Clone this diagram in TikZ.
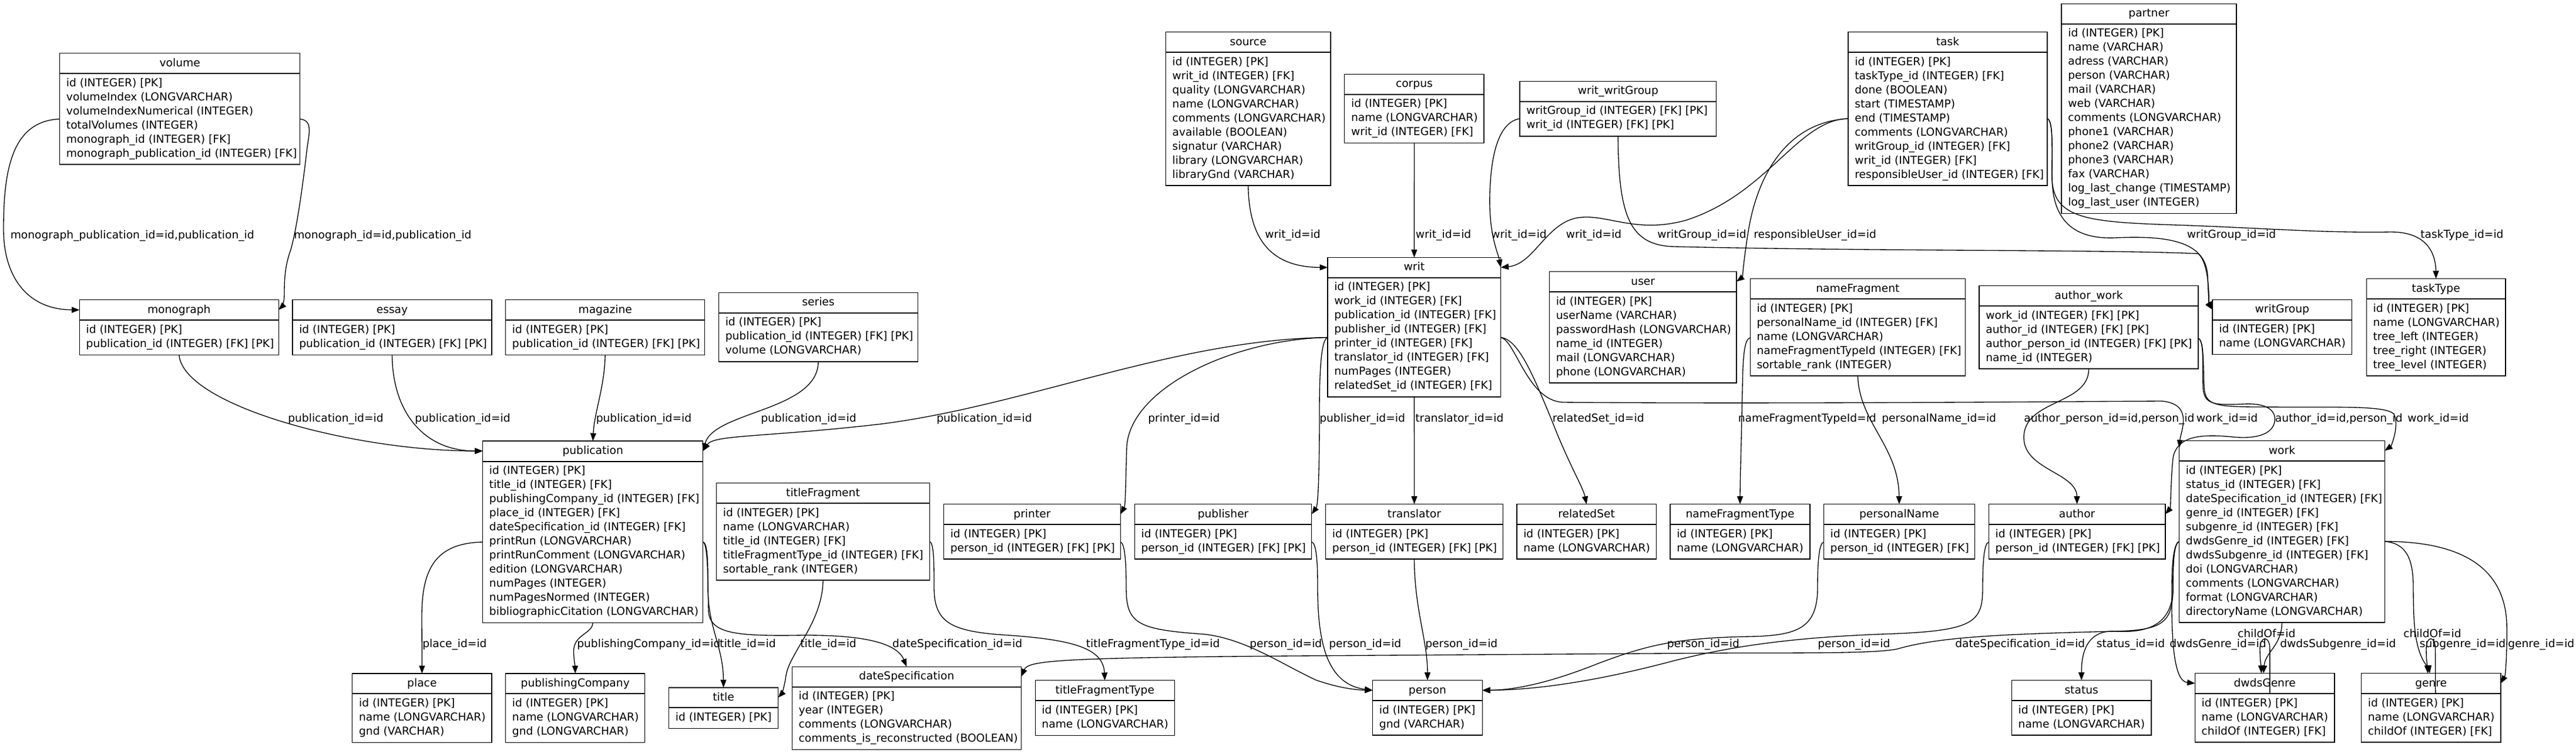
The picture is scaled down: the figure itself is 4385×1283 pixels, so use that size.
\documentclass[tikz,border=0pt]{standalone}
\usepackage{fontspec}
\setmainfont{DejaVu Sans}
\usetikzlibrary{arrows.meta,calc}
\newcommand\fsz{\fontsize{14pt}{18pt}\selectfont}
\tikzset{
  tablebox/.style={draw, line width=1pt, rectangle, inner sep=0pt, outer sep=0pt},
  headline/.style={line width=1.5pt},
  titletext/.style={anchor=base, inner sep=0pt, font=\fsz},
  rowtext/.style={anchor=base west, inner sep=0pt, font=\fsz},
  elabel/.style={anchor=base west, inner sep=0pt, font=\fsz},
  fk/.style={line width=1pt, -{Triangle[length=10pt,width=7.5pt]}}
}
% #1 name, #2 x1, #3 y1, #4 x2, #5 title, #6 number of rows, #7 rows
\newcommand\ertable[7]{%
  \pgfmathsetmacro\erybot{#3+45.5+24*#6}%
  \node[tablebox, minimum width={(#4-#2)*0.75pt}, minimum height={(\erybot-#3)*0.75pt}] (#1) at ({(#2+#4)/2},{(#3+\erybot)/2}) {};
  \draw[headline] ($(#1.north west)+(0,34.5)$) -- ($(#1.north east)+(0,34.5)$);
  \node[titletext] (#1-title) at ($(#1.north)+(0,22.5)$) {#5};
  \foreach \errow [count=\eri] in {#7} {%
    \node[rowtext] (#1-row\eri) at ($(#1.north west)+(11,{56.5+24*(\eri-1)})$) {\errow};
  }%
}
\begin{document}
\begin{tikzpicture}[x=0.75pt,y=-0.75pt]
\useasboundingbox (0,0) rectangle (4385,1283);

% ---------------- tables ----------------
\ertable{volume}{101.7}{90.6}{510.7}{volume}{6}{id (INTEGER) [PK],volumeIndex (LONGVARCHAR),volumeIndexNumerical (INTEGER),totalVolumes (INTEGER),monograph\_id (INTEGER) [FK],monograph\_publication\_id (INTEGER) [FK]}
\ertable{monograph}{135.4}{510.8}{474.2}{monograph}{2}{id (INTEGER) [PK],publication\_id (INTEGER) [FK] [PK]}
\ertable{essay}{498}{510.8}{837}{essay}{2}{id (INTEGER) [PK],publication\_id (INTEGER) [FK] [PK]}
\ertable{magazine}{860.7}{510.8}{1199.7}{magazine}{2}{id (INTEGER) [PK],publication\_id (INTEGER) [FK] [PK]}
\ertable{series}{1223.5}{498.4}{1562.5}{series}{3}{id (INTEGER) [PK],publication\_id (INTEGER) [FK] [PK],volume (LONGVARCHAR)}
\ertable{publication}{821.7}{751}{1196.7}{publication}{11}{id (INTEGER) [PK],title\_id (INTEGER) [FK],publishingCompany\_id (INTEGER) [FK],place\_id (INTEGER) [FK],dateSpecification\_id (INTEGER) [FK],printRun (LONGVARCHAR),printRunComment (LONGVARCHAR),edition (LONGVARCHAR),numPages (INTEGER),numPagesNormed (INTEGER),bibliographicCitation (LONGVARCHAR)}
\ertable{titleFragment}{1219.6}{822.5}{1582.4}{titleFragment}{5}{id (INTEGER) [PK],name (LONGVARCHAR),title\_id (INTEGER) [FK],titleFragmentType\_id (INTEGER) [FK],sortable\_rank (INTEGER)}
\ertable{place}{599.8}{1146.9}{836.9}{place}{3}{id (INTEGER) [PK],name (LONGVARCHAR),gnd (VARCHAR)}
\ertable{publishingCompany}{860.7}{1146.9}{1097.7}{publishingCompany}{3}{id (INTEGER) [PK],name (LONGVARCHAR),gnd (LONGVARCHAR)}
\ertable{title}{1138.6}{1170.9}{1324.5}{title}{1}{id (INTEGER) [PK]}
\ertable{dateSpecification}{1348.3}{1135.3}{1738.4}{dateSpecification}{4}{id (INTEGER) [PK],year (INTEGER),comments (LONGVARCHAR),comments\_is\_reconstructed (BOOLEAN)}
\ertable{titleFragmentType}{1762.2}{1158.7}{1999.3}{titleFragmentType}{2}{id (INTEGER) [PK],name (LONGVARCHAR)}
\ertable{printer}{1606.5}{858.5}{1907.4}{printer}{2}{id (INTEGER) [PK],person\_id (INTEGER) [FK] [PK]}
\ertable{publisher}{1931.3}{858.5}{2232.8}{publisher}{2}{id (INTEGER) [PK],person\_id (INTEGER) [FK] [PK]}
\ertable{translator}{2256.6}{858.5}{2558.3}{translator}{2}{id (INTEGER) [PK],person\_id (INTEGER) [FK] [PK]}
\ertable{relatedSet}{2582}{858.5}{2819.2}{relatedSet}{2}{id (INTEGER) [PK],name (LONGVARCHAR)}
\ertable{nameFragmentType}{2843}{858.5}{3081}{nameFragmentType}{2}{id (INTEGER) [PK],name (LONGVARCHAR)}
\ertable{personalName}{3104.4}{858.5}{3361.4}{personalName}{2}{id (INTEGER) [PK],person\_id (INTEGER) [FK]}
\ertable{author}{3385.4}{858.5}{3685.8}{author}{2}{id (INTEGER) [PK],person\_id (INTEGER) [FK] [PK]}
\ertable{work}{3709.6}{750.5}{4059.3}{work}{11}{id (INTEGER) [PK],status\_id (INTEGER) [FK],dateSpecification\_id (INTEGER) [FK],genre\_id (INTEGER) [FK],subgenre\_id (INTEGER) [FK],dwdsGenre\_id (INTEGER) [FK],dwdsSubgenre\_id (INTEGER) [FK],doi (LONGVARCHAR),comments (LONGVARCHAR),format (LONGVARCHAR),directoryName (LONGVARCHAR)}
\ertable{person}{2336.6}{1158.5}{2523.2}{person}{2}{id (INTEGER) [PK],gnd (VARCHAR)}
\ertable{status}{3424.4}{1158.5}{3661.9}{status}{2}{id (INTEGER) [PK],name (LONGVARCHAR)}
\ertable{dwdsGenre}{3736.4}{1146.6}{3973.9}{dwdsGenre}{3}{id (INTEGER) [PK],name (LONGVARCHAR),childOf (INTEGER) [FK]}
\ertable{genre}{4019.5}{1146.6}{4256.9}{genre}{3}{id (INTEGER) [PK],name (LONGVARCHAR),childOf (INTEGER) [FK]}
\ertable{source}{1984.4}{54.5}{2265}{source}{9}{id (INTEGER) [PK],writ\_id (INTEGER) [FK],quality (LONGVARCHAR),name (LONGVARCHAR),comments (LONGVARCHAR),available (BOOLEAN),signatur (VARCHAR),library (LONGVARCHAR),libraryGnd (VARCHAR)}
\ertable{corpus}{2288.8}{126.3}{2526}{corpus}{3}{id (INTEGER) [PK],name (LONGVARCHAR),writ\_id (INTEGER) [FK]}
\ertable{wwg}{2587}{138.4}{2921.6}{writ\_writGroup}{2}{writGroup\_id (INTEGER) [FK] [PK],writ\_id (INTEGER) [FK] [PK]}
\ertable{writ}{2260}{438.4}{2554.7}{writ}{8}{id (INTEGER) [PK],work\_id (INTEGER) [FK],publication\_id (INTEGER) [FK],publisher\_id (INTEGER) [FK],printer\_id (INTEGER) [FK],translator\_id (INTEGER) [FK],numPages (INTEGER),relatedSet\_id (INTEGER) [FK]}
\ertable{user}{2637.5}{462.5}{2956}{user}{6}{id (INTEGER) [PK],userName (VARCHAR),passwordHash (LONGVARCHAR),name\_id (INTEGER),mail (LONGVARCHAR),phone (LONGVARCHAR)}
\ertable{nameFragment}{2979.2}{474.6}{3345.6}{nameFragment}{5}{id (INTEGER) [PK],personalName\_id (INTEGER) [FK],name (LONGVARCHAR),nameFragmentTypeId (INTEGER) [FK],sortable\_rank (INTEGER)}
\ertable{aw}{3369}{486.5}{3742}{author\_work}{4}{work\_id (INTEGER) [FK] [PK],author\_id (INTEGER) [FK] [PK],author\_person\_id (INTEGER) [FK] [PK],name\_id (INTEGER)}
\ertable{writGroup}{3766}{510.3}{4003.6}{writGroup}{2}{id (INTEGER) [PK],name (LONGVARCHAR)}
\ertable{taskType}{4028.3}{474.6}{4265}{taskType}{5}{id (INTEGER) [PK],name (LONGVARCHAR),tree\_left (INTEGER),tree\_right (INTEGER),tree\_level (INTEGER)}
\ertable{task}{3146}{54.5}{3485}{task}{9}{id (INTEGER) [PK],taskType\_id (INTEGER) [FK],done (BOOLEAN),start (TIMESTAMP),end (TIMESTAMP),comments (LONGVARCHAR),writGroup\_id (INTEGER) [FK],writ\_id (INTEGER) [FK],responsibleUser\_id (INTEGER) [FK]}
\ertable{partner}{3509}{6.25}{3807}{partner}{13}{id (INTEGER) [PK],name (VARCHAR),adress (VARCHAR),person (VARCHAR),mail (VARCHAR),web (VARCHAR),comments (LONGVARCHAR),phone1 (VARCHAR),phone2 (VARCHAR),phone3 (VARCHAR),fax (VARCHAR),log\_last\_change (TIMESTAMP),log\_last\_user (INTEGER)}

% ---------------- connectors ----------------
\draw[fk] ($(volume.north west)+(0,112.1)$) .. controls (20,206) and (6,290) .. (6,390) .. controls (6,470) and (45,527) .. ($(monograph.north west)+(0,17)$);
\draw[fk] ($(volume.north east)+(0,112.1)$) .. controls (530,205) and (528,220) .. (523,250) .. controls (515,320) and (505,390) .. (495,425) .. controls (486,450) and (484,470) .. (484,500) .. controls (484,515) and (480,522) .. ($(monograph.north east)+(0,17)$);
\draw[fk] (monograph.south) .. controls (312,690) and (600,768) .. ($(publication.north west)+(0,17)$);
\draw[fk] (essay.south) .. controls (668,700) and (720,768) .. ($(publication.north west)+(0,17)$);
\draw[fk] (magazine.south) .. controls (1029,660) and (1012,700) .. (publication.north);
\draw[fk] (series.south) .. controls (1392,700) and (1215,700) .. ($(publication.north east)+(0,17)$);
\draw[fk] ($(writ.north west)+(0,136.2)$) .. controls (2000,578) and (1750,690) .. (1500,722) .. controls (1300,745) and (1215,740) .. ($(publication.north east)+(0,17)$);
\draw[fk] ($(writ.north west)+(0,136.2)$) .. controls (2100,578) and (1925,660) .. (1918,760) .. controls (1916,820) and (1916,860) .. ($(printer.north east)+(0,17)$);
\draw[fk] ($(writ.north west)+(0,136.2)$) .. controls (2250,578) and (2246,620) .. (2246,700) .. controls (2246,800) and (2244,860) .. ($(publisher.north east)+(0,17)$);
\draw[fk] (writ.south) -- (translator.north);
\draw[fk] ($(writ.north east)+(0,136.2)$) .. controls (2585,578) and (2610,640) .. (2640,712) .. controls (2670,790) and (2695,830) .. (relatedSet.north);
\draw[fk] ($(writ.north east)+(0,136.2)$) .. controls (2580,580) and (2600,682) .. (2660,685) .. controls (3000,688) and (3500,684) .. (3680,683) .. controls (3735,688) and (3712,735) .. ($(work.north west)+(0,12)$);
\draw[fk] (aw.south) .. controls (3556,690) and (3445,680) .. (3445,745) .. controls (3445,800) and (3535,805) .. (author.north);
\draw[fk] (nameFragment.south) .. controls (3165,720) and (3232,760) .. (personalName.north);
\draw[fk] ($(nameFragment.north west)+(0,100.4)$) .. controls (2970,578) and (2967,600) .. (2966,660) .. controls (2964,760) and (2962,820) .. (nameFragmentType.north);
\draw[fk] ($(task.north west)+(0,147.5)$) .. controls (3060,204) and (3010,330) .. (2870,375) .. controls (2780,400) and (2730,360) .. (2680,372) .. controls (2630,385) and (2610,450) .. ($(writ.north east)+(0,17)$);
\draw[fk] ($(task.north west)+(0,147.5)$) .. controls (3040,208) and (2990,300) .. (2975,400) .. controls (2968,445) and (2966,472) .. ($(user.north east)+(0,17)$);
\draw[fk] ($(wwg.north west)+(0,63.6)$) .. controls (2552,208) and (2538,260) .. (2536,330) .. controls (2534,400) and (2550,430) .. ($(writ.north east)+(0,17)$);
\draw[fk] (wwg.south) .. controls (2755,370) and (2775,418) .. (2850,420) .. controls (3200,428) and (3600,425) .. (3742,432) .. controls (3762,450) and (3760,515) .. ($(writGroup.north west)+(0,17)$);
\draw[fk] ($(task.north east)+(0,147.5)$) .. controls (3495,205) and (3493,250) .. (3493,300) .. controls (3493,365) and (3520,408) .. (3600,405) .. controls (3700,400) and (3755,415) .. (3758,470) .. controls (3759,505) and (3761,520) .. ($(writGroup.north west)+(0,17)$);
\draw[fk] ($(task.north east)+(0,147.5)$) .. controls (3495,205) and (3493,250) .. (3493,300) .. controls (3493,372) and (3550,378) .. (3700,383) .. controls (3850,388) and (3950,397) .. (4070,395) .. controls (4130,395) and (4146,430) .. (taskType.north);
\draw[fk] (source.south) .. controls (2126,415) and (2170,455) .. ($(writ.north west)+(0,17)$);
\draw[fk] (corpus.south) -- (writ.north);
\draw[fk] ($(publication.north west)+(0,172)$) .. controls (740,925) and (718,970) .. (718,1050) -- (place.north);
\draw[fk] (publication.south) .. controls (1008,1080) and (976,1080) .. (976.5,1110) .. controls (977,1125) and (979,1135) .. (publishingCompany.north);
\draw[fk] ($(publication.north east)+(0,172)$) .. controls (1205,925) and (1205,960) .. (1205,1000) .. controls (1205,1070) and (1231,1100) .. (title.north);
\draw[fk] ($(publication.north east)+(0,172)$) .. controls (1205,925) and (1205,990) .. (1206,1040) .. controls (1208,1078) and (1250,1083) .. (1350,1082) .. controls (1450,1080) and (1525,1090) .. (dateSpecification.north);
\draw[fk] (titleFragment.south) .. controls (1400,1060) and (1345,1110) .. (1338,1150) .. controls (1335,1172) and (1330,1182) .. ($(title.north east)+(0,17)$);
\draw[fk] ($(titleFragment.north east)+(0,99.5)$) .. controls (1590,925) and (1590,960) .. (1590,1000) .. controls (1590,1062) and (1620,1076) .. (1720,1082) .. controls (1830,1090) and (1878,1105) .. (titleFragmentType.north);
\draw[fk] ($(printer.north east)+(0,64.5)$) .. controls (1915,925) and (1917,960) .. (1917,1000) .. controls (1917,1062) and (1935,1072) .. (2050,1080) .. controls (2120,1088) and (2180,1130) .. (2240,1158) .. controls (2280,1172) and (2310,1175) .. ($(person.north west)+(0,17)$);
\draw[fk] ($(publisher.north east)+(0,64.5)$) .. controls (2240,925) and (2243,950) .. (2243,1000) .. controls (2243,1085) and (2255,1165) .. ($(person.north west)+(0,17)$);
\draw[fk] (translator.south) .. controls (2408,1040) and (2430,1090) .. (person.north);
\draw[fk] ($(personalName.north west)+(0,64.5)$) .. controls (3096,925) and (3094,960) .. (3094,1000) .. controls (3094,1070) and (3060,1082) .. (2980,1084) .. controls (2850,1086) and (2800,1100) .. (2720,1130) .. controls (2640,1162) and (2580,1175) .. ($(person.north east)+(0,17)$);
\draw[fk] ($(author.north west)+(0,64.5)$) .. controls (3377,925) and (3375,960) .. (3375,1000) .. controls (3375,1062) and (3360,1075) .. (3200,1080) .. controls (3050,1086) and (2950,1100) .. (2850,1125) .. controls (2700,1165) and (2600,1175) .. ($(person.north east)+(0,17)$);
\draw[fk] ($(work.north west)+(0,171.5)$) .. controls (3700,925) and (3699,960) .. (3699,1000) .. controls (3699,1062) and (3680,1073) .. (3600,1075) .. controls (3400,1080) and (3300,1085) .. (3230,1105) .. controls (3200,1112) and (3100,1112) .. (2950,1112) -- (2200,1117) .. controls (1800,1120) and (1750,1125) .. ($(dateSpecification.north east)+(0,17)$);
\draw[fk] ($(work.north west)+(0,171.5)$) .. controls (3700,925) and (3699,960) .. (3699,1000) .. controls (3699,1068) and (3650,1078) .. (3600,1075) .. controls (3560,1073) and (3543,1100) .. (status.north);
\draw[fk] ($(work.north west)+(0,171.5)$) .. controls (3700,925) and (3697,960) .. (3697,1000) .. controls (3696,1090) and (3700,1160) .. ($(dwdsGenre.north west)+(0,17)$);
\draw[fk] (work.south) .. controls (3884,1100) and (3856,1110) .. ($(dwdsGenre.north west)+(116.6,0)$);
\draw[fk] ($(dwdsGenre.north west)+(127.4,34.5)$) -- (3863.8,1105) .. controls (3863.8,1082) and (3847,1082) .. (3847,1105) .. controls (3847,1125) and (3849,1135) .. ($(dwdsGenre.north west)+(113,0)$);
\draw[fk] ($(genre.north west)+(126.3,34.5)$) -- (4145.5,1105) .. controls (4145.5,1082) and (4130,1082) .. (4130,1105) .. controls (4130,1125) and (4132,1135) .. ($(genre.north west)+(113,0)$);
\draw[fk] ($(work.north east)+(0,171.5)$) .. controls (4095,925) and (4108,950) .. (4108,1000) .. controls (4108,1070) and (4112,1100) .. (4125,1125) .. controls (4131,1135) and (4135,1140) .. ($(genre.north west)+(116.5,0)$);
\draw[fk] ($(work.north east)+(0,171.5)$) .. controls (4180,922) and (4262,960) .. (4267,1060) .. controls (4268,1110) and (4265,1150) .. ($(genre.north east)+(0,17)$);
\draw[fk] ($(aw.north east)+(0,89.5)$) .. controls (3752,580) and (3749,620) .. (3750,660) .. controls (3752,690) and (3770,690) .. (3820,688) .. controls (3860,686) and (3875,700) .. (3872,718) .. controls (3868,740) and (3840,748) .. (3800,744) .. controls (3740,738) and (3705,745) .. (3699,780) .. controls (3695,820) and (3695,865) .. ($(author.north east)+(0,17)$);
\draw[fk] ($(aw.north east)+(0,89.5)$) .. controls (3752,580) and (3750,620) .. (3752,660) .. controls (3754,690) and (3770,693) .. (3850,693) .. controls (3980,694) and (4060,690) .. (4075,705) .. controls (4085,725) and (4070,760) .. ($(work.north east)+(0,17)$);

% ---------------- labels ----------------
\node[elabel] (L1) at (17.5,406) {monograph\_publication\_id=id,publication\_id};
\node[elabel] (L2) at (500,406) {monograph\_id=id,publication\_id};
\node[elabel] (L3) at (490,718) {publication\_id=id};
\node[elabel] (L4) at (706,718) {publication\_id=id};
\node[elabel] (L5) at (1014.5,718) {publication\_id=id};
\node[elabel] (L6) at (1295,718) {publication\_id=id};
\node[elabel] (L7) at (1594,718) {publication\_id=id};
\node[elabel] (L8) at (1954,718) {printer\_id=id};
\node[elabel] (L9) at (2246,718) {publisher\_id=id};
\node[elabel] (L10) at (2409,718) {translator\_id=id};
\node[elabel] (L11) at (2642.6,718) {relatedSet\_id=id};
\node[elabel] (L12) at (3738.6,718) {work\_id=id};
\node[elabel] (L13) at (3445,718) {author\_person\_id=id,person\_id};
\node[elabel] (L14) at (3203,718) {personalName\_id=id};
\node[elabel] (L15) at (2958.5,718) {nameFragmentTypeId=id};
\node[elabel] (L16) at (2665.5,405.5) {writ\_id=id};
\node[elabel] (L17) at (2985,405.5) {responsibleUser\_id=id};
\node[elabel] (L18) at (2538,405.5) {writ\_id=id};
\node[elabel] (L19) at (2821,405.5) {writGroup\_id=id};
\node[elabel] (L20) at (3722.6,405.5) {writGroup\_id=id};
\node[elabel] (L21) at (4120,405.5) {taskType\_id=id};
\node[elabel] (L22) at (2153,405.5) {writ\_id=id};
\node[elabel] (L23) at (2409.5,405.5) {writ\_id=id};
\node[elabel] (L24) at (719,1102) {place\_id=id};
\node[elabel] (L25) at (982,1102) {publishingCompany\_id=id};
\node[elabel] (L26) at (1224.9,1102) {title\_id=id};
\node[elabel] (L27) at (1518.8,1102) {dateSpecification\_id=id};
\node[elabel] (L28) at (1362,1102) {title\_id=id};
\node[elabel] (L29) at (1848.5,1102) {titleFragmentType\_id=id};
\node[elabel] (L30) at (2127,1102) {person\_id=id};
\node[elabel] (L31) at (2262,1102) {person\_id=id};
\node[elabel] (L32) at (2426,1102) {person\_id=id};
\node[elabel] (L33) at (2837.5,1102) {person\_id=id};
\node[elabel] (L34) at (3094,1102) {person\_id=id};
\node[elabel] (L35) at (3328,1102) {dateSpecification\_id=id};
\node[elabel] (L36) at (3568.5,1102) {status\_id=id};
\node[elabel] (L37) at (3693,1102) {dwdsGenre\_id=id};
\node[elabel] (L38) at (3881,1102) {dwdsSubgenre\_id=id};
\node[elabel] (L39) at (3808.8,1085) {childOf=id};
\node[elabel] (L40) at (4091,1085) {childOf=id};
\node[elabel] (L41) at (4118.6,1102) {subgenre\_id=id};
\node[elabel] (L42) at (4269,1102) {genre\_id=id};
\node[elabel] (L43) at (3872.5,718) {author\_id=id,person\_id};
\node[elabel] (L44) at (4098,718) {work\_id=id};
\end{tikzpicture}
\end{document}
